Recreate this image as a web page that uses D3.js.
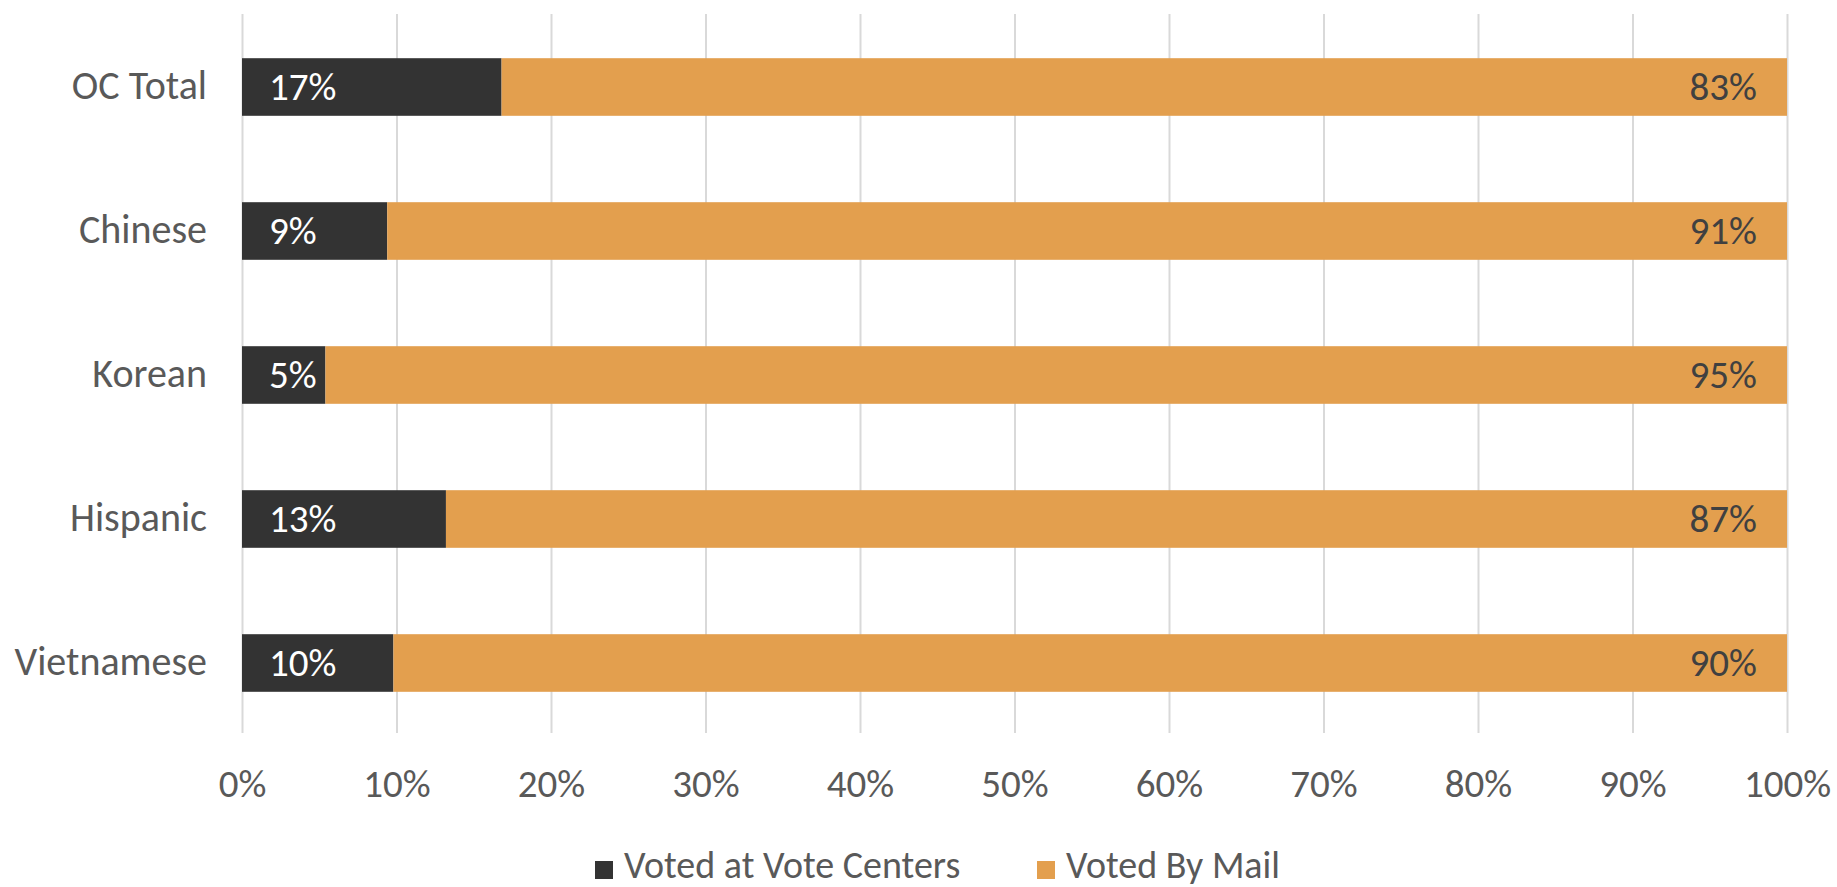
<!DOCTYPE html>
<html>
<head>
<meta charset="utf-8">
<script src="https://cdn.jsdelivr.net/npm/d3@7"></script>
<style>
body { margin: 0; background: #fff; }
text { font-family: "Carlito", "Liberation Sans Narrow", "DejaVu Sans Condensed", sans-serif; }
</style>
</head>
<body>
<div id="chart"></div>
<script>
var categories = ["OC Total", "Chinese", "Korean", "Hispanic", "Vietnamese"];
var voteCenters = [0.168, 0.094, 0.054, 0.132, 0.098];
var byMail = [0.832, 0.906, 0.946, 0.868, 0.902];
var seriesNames = ["Voted at Vote Centers", "Voted By Mail"];
var xTicks = [0, 0.1, 0.2, 0.3, 0.4, 0.5, 0.6, 0.7, 0.8, 0.9, 1];

var width = 1837,
height = 887;

var colors = ["#333333", "#e39f4e"];

var svg = d3.select("#chart").append("svg")
.attr("width", width)
.attr("height", height);

var x = d3.scaleLinear().domain([0, 1]).range([242, 1787]);

var y = d3.scaleBand()
.domain(categories)
.range([15, 735])
.paddingInner(0.6)
.paddingOuter(0.3);

var fmt = d3.format(".0%");

// gridlines + tick labels
var xAxis = svg.append("g")
.attr("transform", "translate(0,733)")
.call(d3.axisBottom(x).tickValues(xTicks).tickFormat(fmt).tickSize(-719));

xAxis.select(".domain").remove();
xAxis.selectAll("line").attr("stroke", "#d9d9d9").attr("stroke-width", 2);
xAxis.selectAll("text")
.attr("y", 64)
.attr("dy", null)
.attr("fill", "#595959")
.style("font-size", "39px");

var rows = categories.map(function (c, i) {
return { cat: c, a: voteCenters[i], b: byMail[i] };
});

var bars = svg.append("g");

bars.selectAll("rect.centers")
.data(rows)
.enter()
.append("rect")
.attr("class", "centers")
.attr("x", x(0))
.attr("y", function (d) { return y(d.cat); })
.attr("width", function (d) { return x(d.a) - x(0); })
.attr("height", y.bandwidth())
.attr("fill", colors[0]);

bars.selectAll("rect.mail")
.data(rows)
.enter()
.append("rect")
.attr("class", "mail")
.attr("x", function (d) { return x(d.a); })
.attr("y", function (d) { return y(d.cat); })
.attr("width", function (d) { return x(d.a + d.b) - x(d.a); })
.attr("height", y.bandwidth())
.attr("fill", colors[1]);

// data labels
var labels = svg.append("g").style("font-size", "39px");

labels.selectAll("text.lc")
.data(rows)
.enter()
.append("text")
.attr("class", "lc")
.attr("x", x(0) + 27)
.attr("y", function (d) { return y(d.cat) + y.bandwidth() / 2; })
.attr("dy", "0.34em")
.attr("fill", "#ffffff")
.text(function (d) { return fmt(d.a); });

labels.selectAll("text.lm")
.data(rows)
.enter()
.append("text")
.attr("class", "lm")
.attr("x", x(1) - 30)
.attr("y", function (d) { return y(d.cat) + y.bandwidth() / 2; })
.attr("dy", "0.34em")
.attr("text-anchor", "end")
.attr("fill", "#404040")
.text(function (d) { return fmt(d.b); });

// category labels
svg.append("g")
.selectAll("text")
.data(categories)
.enter()
.append("text")
.attr("x", 207)
.attr("y", function (d) { return y(d) + y.bandwidth() / 2; })
.attr("dy", "0.3em")
.attr("text-anchor", "end")
.attr("fill", "#595959")
.style("font-size", "40px")
.text(function (d) { return d; });

// legend
var legendX = [595, 1037];
var legend = svg.append("g")
.selectAll("g")
.data(seriesNames)
.enter()
.append("g")
.attr("transform", function (d, i) { return "translate(" + legendX[i] + ",0)"; });

legend.append("rect")
.attr("y", 861)
.attr("width", 18)
.attr("height", 18)
.attr("fill", function (d, i) { return colors[i]; });

legend.append("text")
.attr("x", 29)
.attr("y", 864)
.attr("dy", "0.36em")
.attr("fill", "#595959")
.style("font-size", "38px")
.text(function (d) { return d; });
</script>
</body>
</html>
